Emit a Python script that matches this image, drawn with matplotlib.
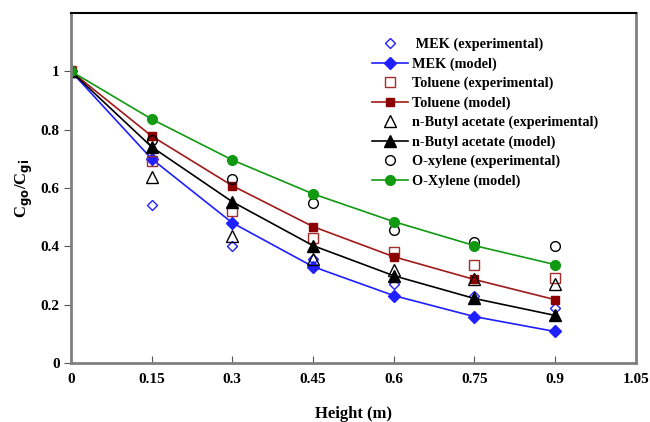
import matplotlib
matplotlib.use('Agg')
import matplotlib.pyplot as plt

plt.rcParams['font.family'] = 'Liberation Serif'
plt.rcParams['font.weight'] = 'bold'

height = [0, 0.15, 0.3, 0.45, 0.6, 0.75, 0.9]

mek_exp = [1.0, 0.543, 0.403, 0.358, 0.273, 0.229, 0.191]
mek_mod = [1.0, 0.700, 0.481, 0.331, 0.232, 0.160, 0.109]
tol_exp = [1.0, 0.693, 0.522, 0.430, 0.382, 0.338, 0.293]
tol_mod = [1.0, 0.778, 0.608, 0.468, 0.365, 0.287, 0.218]
nba_exp = [1.0, 0.638, 0.437, 0.358, 0.318, 0.287, 0.270]
nba_mod = [1.0, 0.741, 0.553, 0.403, 0.300, 0.222, 0.164]
oxy_exp = [1.0, 0.765, 0.631, 0.549, 0.457, 0.416, 0.403]
oxy_mod = [1.0, 0.836, 0.696, 0.580, 0.485, 0.403, 0.338]

fig = plt.figure(figsize=(6.5, 4.22), dpi=100)
ax = fig.add_axes([0.109, 0.139, 0.869, 0.831])

ax.plot(height, mek_exp, 'D', mfc='none', mec='#1f1fff', ms=5, mew=1, label=' MEK (experimental)')
ax.plot(height, mek_mod, '-D', color='#1f1fff', ms=6, lw=1.2, label='MEK (model)')
ax.plot(height, tol_exp, 's', mfc='none', mec='#a52a2a', ms=7, mew=1, label='Toluene (experimental)')
ax.plot(height, tol_mod, '-s', color='#a01a1a', mfc='#8b0000', mec='#8b0000', ms=6, lw=1.2, label='Toluene (model)')
ax.plot(height, nba_exp, '^', mfc='none', mec='black', ms=8, mew=1, label='n-Butyl acetate (experimental)')
ax.plot(height, nba_mod, '-^', color='black', ms=8, lw=1.2, label='n-Butyl acetate (model)')
ax.plot(height, oxy_exp, 'o', mfc='none', mec='black', ms=7, mew=1, label='O-xylene (experimental)')
ax.plot(height, oxy_mod, '-o', color='#119911', ms=7, lw=1.2, label='O-Xylene (model)')

ax.set_xlim(0, 1.05)
ax.set_ylim(0, 1.2)
ax.set_xticks([0, 0.15, 0.3, 0.45, 0.6, 0.75, 0.9, 1.05])
ax.set_xticklabels(['0', '0.15', '0.3', '0.45', '0.6', '0.75', '0.9', '1.05'])
ax.set_yticks([0, 0.2, 0.4, 0.6, 0.8, 1.0])
ax.set_yticklabels(['0', '0.2', '0.4', '0.6', '0.8', '1'])
ax.tick_params(axis='x', direction='in', length=5, pad=7, labelsize=11, color='#555555')
ax.tick_params(axis='y', direction='out', length=5, pad=3, labelsize=11, color='#555555')

for s in ['left', 'bottom', 'right']:
    ax.spines[s].set_color('#808080')
    ax.spines[s].set_linewidth(2)
ax.spines['top'].set_color('black')
ax.spines['top'].set_linewidth(1.5)

ax.set_xlabel('Height (m)', fontsize=12, fontweight='bold', labelpad=14)
ax.set_ylabel(r'C$_{\mathbf{go}}$/C$_{\mathbf{gi}}$', fontsize=12, fontweight='bold', labelpad=4)

ax.legend(loc='upper left', bbox_to_anchor=(0.51, 0.965), frameon=False,
          prop={'family': 'Liberation Serif', 'weight': 'bold', 'size': 10.3},
          handlelength=2.5, labelspacing=0.42, handletextpad=0.3)

fig.savefig('out.png', dpi=100)
